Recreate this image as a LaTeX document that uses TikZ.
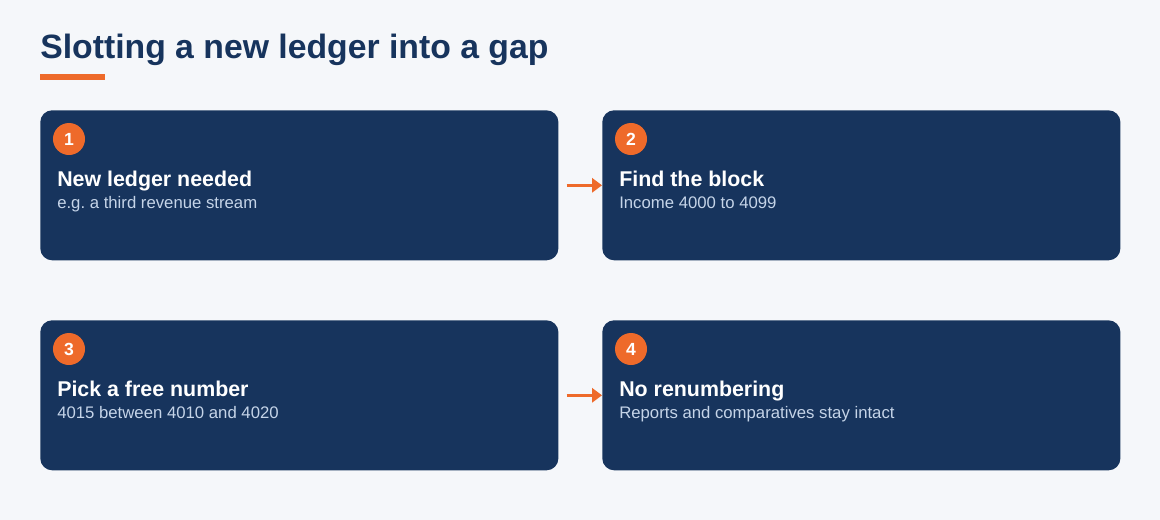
\documentclass[tikz,border=0pt]{standalone}
\usepackage{fontspec}
\setmainfont{Liberation Sans}
\usepackage{tikz}
\usetikzlibrary{positioning,calc,arrows.meta}

\definecolor{pagebg}{HTML}{F5F7FA}
\definecolor{navy}{HTML}{17345D}
\definecolor{accent}{HTML}{EE6A2A}
\definecolor{paleblue}{HTML}{C5D4E8}

\tikzset{
  card/.style={fill=navy, rounded corners=0.3cm, minimum width=12.95cm,
    minimum height=3.75cm, anchor=north west, inner sep=0pt},
  badge/.style={circle, fill=accent, minimum size=0.8cm, inner sep=0pt,
    text=white, font=\bfseries\fontsize{12.5}{14}\selectfont},
  heading/.style={anchor=base west, text=white, inner sep=0pt,
    font=\bfseries\fontsize{15.2}{18}\selectfont},
  note/.style={anchor=base west, text=paleblue, inner sep=0pt,
    font=\fontsize{11.9}{14}\selectfont},
  flow/.style={draw=accent, line width=2.2pt, -{Triangle[length=7pt,width=10pt]}}
}

\frenchspacing
\begin{document}
\begin{tikzpicture}[x=0.025cm,y=-0.025cm]

\fill[pagebg] (0,0) rectangle (1160,520);

\node[anchor=base west, inner sep=0pt, text=navy,
  font=\bfseries\fontsize{24}{29}\selectfont] (title) at (40,58) {Slotting a new ledger into a gap};
\fill[accent] (40,74) rectangle (105,80);

\node[card] (card1) at (40,110) {};
\node[card] (card2) at (602,110) {};
\node[card] (card3) at (40,320) {};
\node[card] (card4) at (602,320) {};

\foreach \n/\head/\sub in {1/New ledger needed/e.g. a third revenue stream,
                           2/Find the block/Income 4000 to 4099,
                           3/Pick a free number/4015 between 4010 and 4020,
                           4/No renumbering/Reports and comparatives stay intact} {
  \node[badge] (badge\n) at ($(card\n.north west)+(29,29)$) {\n};
  \node[heading] (head\n) at ($(card\n.north west)+(17,76)$) {\head};
  \node[note] (note\n) at ($(card\n.north west)+(17,98)$) {\sub};
}

\draw[flow] ([xshift=0.2cm]card1.east) -- (card2.west);
\draw[flow] ([xshift=0.2cm]card3.east) -- (card4.west);

\end{tikzpicture}
\end{document}
